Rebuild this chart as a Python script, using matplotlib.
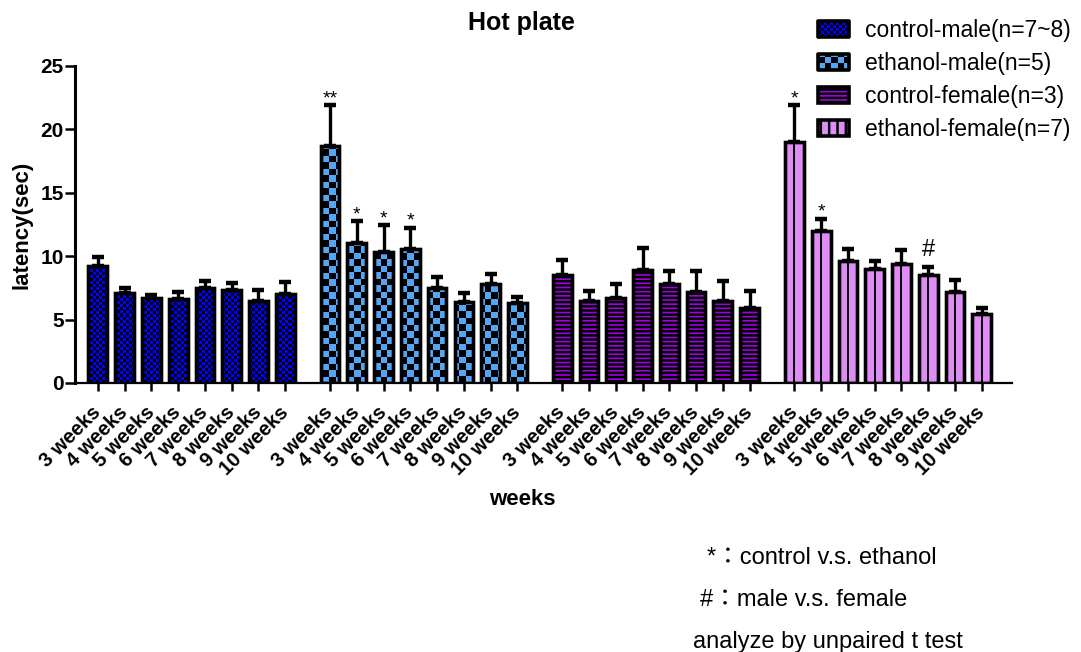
import numpy as np
import matplotlib
matplotlib.use("Agg")
import matplotlib.pyplot as plt
from matplotlib.patches import Rectangle
from matplotlib.legend_handler import HandlerBase

plt.rcParams['font.family'] = ['Liberation Sans', 'Noto Sans CJK TC']
plt.rcParams['hatch.linewidth'] = 1.8

# Hot plate latency, mean and SEM per week
weeks = ["3 weeks", "4 weeks", "5 weeks", "6 weeks", "7 weeks", "8 weeks", "9 weeks", "10 weeks"]
group_names = ["control-male(n=7~8)", "ethanol-male(n=5)", "control-female(n=3)", "ethanol-female(n=7)"]

ctrl_male = [9.2, 7.1, 6.7, 6.6, 7.45, 7.35, 6.45, 7.0]
ctrl_male_sem = [0.7, 0.4, 0.2, 0.6, 0.6, 0.55, 0.85, 0.95]
eth_male = [18.7, 11.05, 10.35, 10.6, 7.45, 6.4, 7.8, 6.3]
eth_male_sem = [3.2, 1.7, 2.1, 1.65, 0.9, 0.7, 0.8, 0.5]
ctrl_female = [8.5, 6.45, 6.7, 8.9, 7.8, 7.15, 6.5, 5.95]
ctrl_female_sem = [1.2, 0.8, 1.1, 1.75, 1.05, 1.7, 1.55, 1.3]
eth_female = [19.0, 11.95, 9.6, 8.95, 9.4, 8.5, 7.15, 5.4]
eth_female_sem = [2.9, 1.0, 0.95, 0.7, 1.1, 0.65, 0.95, 0.5]

means = [ctrl_male, eth_male, ctrl_female, eth_female]
sems = [ctrl_male_sem, eth_male_sem, ctrl_female_sem, eth_female_sem]

# significance marks: (group, week index, symbol)
marks = [(1, 0, "**"), (1, 1, "*"), (1, 2, "*"), (1, 3, "*"),
         (3, 0, "*"), (3, 1, "*"), (3, 5, "#")]

colors = ["#0000ff", "#55a5f5", "#a000e0", "#e08cf5"]
fills = ["checker", "checker", "----", "center"]
checker_px = [3, 6.5, None, None]   # checker cell size in pixels

stride = 8.67
width = 0.70
edge_lw = 2.4


def add_checker(ax, patch, cell, zorder):
    # black squares over the bar face, clipped to the bar
    x0, x1 = ax.get_xlim()
    y0, y1 = ax.get_ylim()
    nx = int(round(ax.bbox.width / cell))
    ny = int(round(ax.bbox.height / cell))
    ii, jj = np.indices((ny, nx))
    rgba = np.zeros((ny, nx, 4))
    rgba[..., 3] = ((ii + jj) % 2).astype(float)
    im = ax.imshow(rgba, extent=(x0, x1, y0, y1), origin='lower',
                   interpolation='nearest', aspect='auto', zorder=zorder)
    im.set_clip_path(patch)


class CheckerHandler(HandlerBase):
    def __init__(self, color, cell):
        super().__init__()
        self.color = color
        self.cell = cell * 0.72  # px -> points

    def create_artists(self, legend, orig_handle, xdescent, ydescent,
                       width, height, fontsize, trans):
        x0, y0 = -xdescent, -ydescent
        arts = [Rectangle((x0, y0), width, height, facecolor=self.color,
                          edgecolor='none', transform=trans)]
        c = self.cell
        nx = int(np.ceil(width / c))
        ny = int(np.ceil(height / c))
        for i in range(nx):
            for j in range(ny):
                if (i + j) % 2:
                    w = min(c, width - i * c)
                    h = min(c, height - j * c)
                    arts.append(Rectangle((x0 + i * c, y0 + j * c), w, h,
                                          facecolor='black', edgecolor='none',
                                          transform=trans))
        arts.append(Rectangle((x0, y0), width, height, fill=False,
                              edgecolor='black', lw=2.6,
                              joinstyle='round', transform=trans))
        return arts


fig = plt.figure(figsize=(10.81, 6.52), dpi=100)
ax = fig.add_axes([0.0694, 0.4126, 0.8666, 0.4864])
ax.set_xlim(-0.85, 3 * stride + 7 + 1.12)
ax.set_ylim(0, 25)

x_all = []
for g in range(4):
    x = g * stride + np.arange(len(weeks))
    x_all.extend(x)
    hatch = fills[g] if fills[g].startswith("-") else None
    bars = ax.bar(x, means[g], width=width, color=colors[g], edgecolor='black',
                  linewidth=edge_lw, hatch=hatch, zorder=2)
    if fills[g] == "checker":
        for b in bars:
            add_checker(ax, b, checker_px[g], 2.5)
    elif fills[g] == "center":
        ax.vlines(x, 0, means[g], colors='black', linewidth=1.4, zorder=2.5)
    # outline again on top of the fill pattern
    ax.bar(x, means[g], width=width, fill=False, edgecolor='black',
           linewidth=edge_lw, zorder=3)
    ax.errorbar(x, means[g], yerr=[np.zeros(len(weeks)), sems[g]], fmt='none',
                ecolor='black', elinewidth=2.4, capsize=4, capthick=3.2, zorder=1.5)

for g, i, sym in marks:
    top = means[g][i] + sems[g][i]
    x = g * stride + i
    if sym == "#":
        ax.annotate(sym, (x, top), xytext=(0, 8), textcoords='offset points',
                    ha='center', va='baseline', fontsize=17)
    else:
        ax.annotate(sym, (x, top), xytext=(0, 1.5), textcoords='offset points',
                    ha='center', va='baseline', fontsize=14)

ax.set_xticks(x_all, weeks * 4, rotation=45, ha='right', va='center',
              rotation_mode='anchor', fontsize=14.5, fontweight='bold')
ax.set_yticks([0, 5, 10, 15, 20, 25])
for lab in ax.get_yticklabels():
    lab.set_fontweight('bold')
    lab.set_fontsize(15)

ax.tick_params(axis='x', length=6, width=1.8, pad=13)
ax.tick_params(axis='y', length=7, width=1.8, pad=1)

for side in ['top', 'right']:
    ax.spines[side].set_visible(False)
ax.spines['left'].set_linewidth(2.2)
ax.spines['bottom'].set_linewidth(1.6)

ax.set_ylabel("latency(sec)", fontsize=16, fontweight='bold', labelpad=6)
ax.set_xlabel("weeks", fontsize=16, fontweight='bold')
ax.xaxis.set_label_coords(0.477, -0.334)

fig.text(0.4826, 1 - 23 / 652, "Hot plate", ha='center', va='center',
         fontsize=18, fontweight='bold')

# legend keys
proxies = [Rectangle((0, 0), 1, 1, facecolor=colors[0], edgecolor='black'),
           Rectangle((0, 0), 1, 1, facecolor=colors[1], edgecolor='black'),
           Rectangle((0, 0), 1, 1, facecolor=colors[2], edgecolor='black',
                     lw=2.6, hatch='----'),
           Rectangle((0, 0), 1, 1, facecolor=colors[3], edgecolor='black',
                     lw=2.6, hatch='||')]
handler_map = {proxies[g]: CheckerHandler(colors[g], checker_px[g]) for g in (0, 1)}
ax.legend(proxies, group_names, handler_map=handler_map,
          loc='upper left', bbox_to_anchor=(818 / 1081, 1 - 19 / 652),
          bbox_transform=fig.transFigure, frameon=False, fontsize=16.5,
          handlelength=1.35, handleheight=0.66, handletextpad=0.7,
          labelspacing=0.44, borderpad=0, borderaxespad=0)

fig.text(707 / 1081, 1 - 558 / 652, "*：control v.s. ethanol", ha='left', va='center', fontsize=17)
fig.text(700 / 1081, 1 - 600 / 652, "#：male v.s. female", ha='left', va='center', fontsize=17)
fig.text(693 / 1081, 1 - 642 / 652, "analyze by unpaired t test", ha='left', va='center', fontsize=17)

fig.savefig("out.png", dpi=100)
